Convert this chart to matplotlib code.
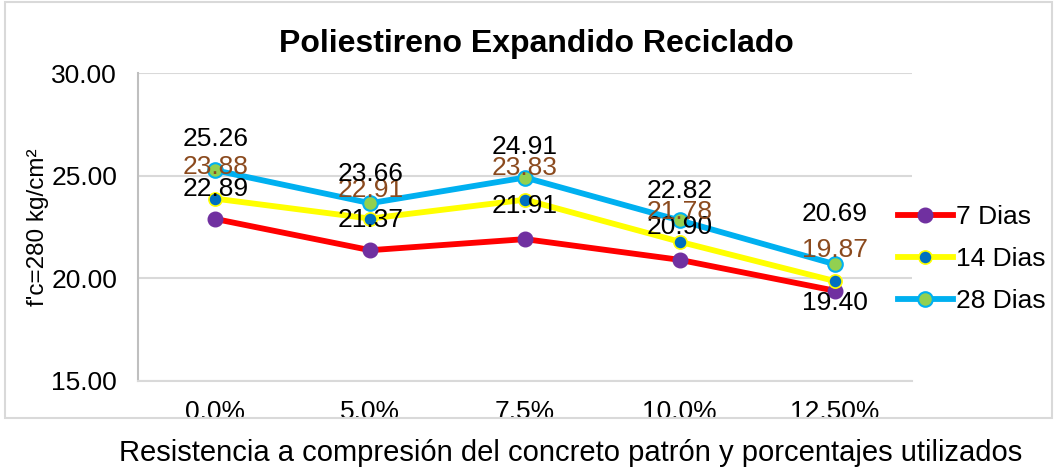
import matplotlib
matplotlib.use("Agg")
import matplotlib.pyplot as plt
from matplotlib.patches import Rectangle

categories = ["0.0%", "5.0%", "7.5%", "10.0%", "12.50%"]
dias7 = [22.89, 21.37, 21.91, 20.90, 19.40]
dias14 = [23.88, 22.91, 23.83, 21.78, 19.87]
dias28 = [25.26, 23.66, 24.91, 22.82, 20.69]
series_names = ["7 Dias", "14 Dias", "28 Dias"]
yticks = [15.0, 20.0, 25.0, 30.0]

plt.rcParams['font.family'] = ['Liberation Sans', 'DejaVu Sans']

fig = plt.figure(figsize=(10.57, 4.71), dpi=100)
ax = fig.add_axes([138/1057, 1-381/471, (912-138)/1057, (381-73)/471])

x = list(range(len(categories)))
lw = 4.2
l7, = ax.plot(x, dias7, color='#FF0000', lw=lw, marker='o', ms=10.5,
              mfc='#7030A0', mec='#7030A0', mew=1, label=series_names[0], zorder=3)
l14, = ax.plot(x, dias14, color='#FFFF00', lw=lw, marker='o', ms=9.5,
               mfc='#0070C0', mec='#FFFF00', mew=1.2, label=series_names[1], zorder=4)
l28, = ax.plot(x, dias28, color='#00B0F0', lw=lw, marker='o', ms=10.5,
               mfc='#92D050', mec='#00B0F0', mew=1.5, label=series_names[2], zorder=5)

fs = 19
off7 = [30, 30, 33, 33, -12]
off14 = [32, 29, 32, 30, 31]
off28 = [31, 29, 31, 29, 50]
for i, v in enumerate(dias7):
    ax.annotate(f"{v:.2f}", (i, v), xytext=(0, off7[i]), textcoords='offset pixels',
                ha='center', va='center', fontsize=fs, color='black', zorder=6)
for i, v in enumerate(dias14):
    ax.annotate(f"{v:.2f}", (i, v), xytext=(0, off14[i]), textcoords='offset pixels',
                ha='center', va='center', fontsize=fs, color='#8B4A1E', zorder=6)
for i, v in enumerate(dias28):
    ax.annotate(f"{v:.2f}", (i, v), xytext=(0, off28[i]), textcoords='offset pixels',
                ha='center', va='center', fontsize=fs, color='black', zorder=6)

ax.set_xlim(-0.5, len(categories) - 0.5)
ax.set_ylim(15, 30)
ax.set_yticks(yticks)
ax.set_yticklabels([f"{t:.2f}" for t in yticks], fontsize=fs)
ax.set_xticks(x)
ax.set_xticklabels(categories, fontsize=fs)
ax.tick_params(axis='both', length=0)
ax.tick_params(axis='y', pad=15)
ax.tick_params(axis='x', pad=14)
ax.grid(axis='y', color='#D9D9D9', lw=1.5)
ax.set_axisbelow(True)
for s in ['top', 'right']:
    ax.spines[s].set_visible(False)
ax.spines['left'].set_color('#BFBFBF')
ax.spines['left'].set_linewidth(1.5)
ax.spines['bottom'].set_color('#D9D9D9')
ax.spines['bottom'].set_linewidth(1.5)

ax.set_ylabel("f'c=280 kg/cm²", fontsize=17.5)
ax.yaxis.set_label_coords(-89/774, 0.5)

fig.text(536/1057, 1-44/471, "Poliestireno Expandido Reciclado", ha='center', va='center',
         fontsize=23, fontweight='bold')
fig.text(571/1057, 1-453/471, "Resistencia a compresión del concreto patrón y porcentajes utilizados",
         ha='center', va='center', fontsize=21)

fig.legend(handles=[l7, l14, l28], loc='center left', bbox_to_anchor=(887/1057, 1-259/471),
           frameon=False, fontsize=fs, handlelength=2.1, handletextpad=0.1, labelspacing=0.68,
           borderaxespad=0)

fig.patches.append(Rectangle((5/1057, 1-418/471), (1052-5)/1057, (418-2)/471,
                             transform=fig.transFigure, fill=False, edgecolor='#D9D9D9', lw=1.5))

fig.savefig("out.png", dpi=100)
